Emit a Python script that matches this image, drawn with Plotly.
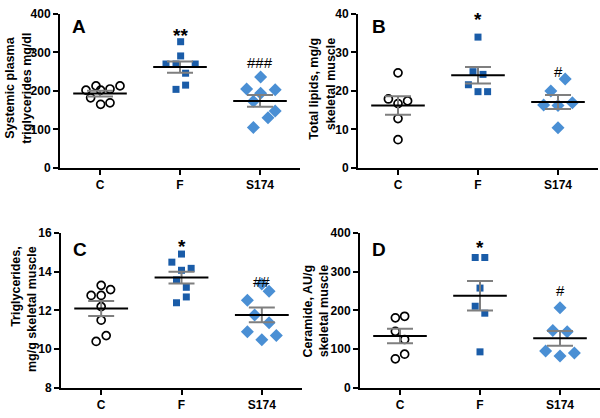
import plotly.graph_objects as go

groups = ["C", "F", "S174"]

# Panel A: systemic plasma triglycerides (mg/dl)
a_C = [202, 213, 202, 205, 213, 182, 165, 169]
a_F = [328, 291, 270, 270, 270, 246, 215, 204]
a_S = [236, 205, 203, 194, 173, 148, 130, 105]
a_mean = [193, 262, 174]
a_sem = [7.5, 14.6, 15.0]

# Panel B: total lipids (mg/g skeletal muscle)
b_C = [24.7, 17.9, 16.7, 17.4, 12.8, 7.3]
b_F = [34.0, 25.0, 24.3, 21.6, 19.8, 19.8]
b_S = [23.1, 20.0, 16.3, 16.2, 16.9, 10.4]
b_mean = [16.2, 24.1, 17.1]
b_sem = [2.4, 2.15, 1.8]

# Panel C: triglycerides (mg/g skeletal muscle)
c_C = [12.78, 12.78, 13.3, 13.08, 12.2, 11.5, 10.7, 10.4]
c_F = [14.92, 14.5, 14.18, 14.08, 13.58, 13.2, 12.7, 12.4]
c_S = [13.37, 13.0, 12.53, 11.77, 11.37, 10.9, 10.7, 10.49]
c_mean = [12.1, 13.7, 11.77]
c_sem = [0.39, 0.31, 0.38]

# Panel D: ceramide (AU/g skeletal muscle)
d_C = [181, 185, 146, 125, 87, 75]
d_F = [337, 337, 258, 211, 193, 93]
d_S = [207, 148, 145, 95, 90, 82]
d_mean = [134, 238, 128]
d_sem = [18.5, 38, 19]

# horizontal jitter of the dot plots (fraction of category spacing)
a_jit = [[-0.175, -0.05, 0.008, 0.125, 0.25, -0.117, 0.008, 0.125],
         [0.008, 0.008, -0.175, -0.05, 0.19, 0.07, 0.07, -0.05],
         [0.008, -0.167, 0.19, 0.008, -0.083, 0.19, 0.1, -0.083]]
b_jit = [[0, -0.12, 0, 0.12, 0, 0],
         [0, -0.0625, 0.0625, -0.12, 0, 0.12],
         [0.09, -0.09, -0.18, 0, 0.18, 0]]
c_jit = [[-0.125, 0, 0, 0.117, 0, 0, 0.0625, -0.0625],
         [0, -0.12, 0.12, 0, -0.0625, 0.06, 0.06, -0.0625],
         [0, 0.09, -0.18, -0.09, 0.09, -0.18, 0.18, 0]]
d_jit = [[-0.058, 0.058, -0.058, 0.058, 0.058, -0.058],
         [-0.06, 0.06, 0, -0.06, 0.06, 0],
         [0, -0.09, 0.09, -0.18, 0.18, 0]]

panels = [
    dict(key="", letter="A", data=[a_C, a_F, a_S], mean=a_mean, sem=a_sem, jit=a_jit,
         yrange=[0, 400], dtick=100,
         title="Systemic plasma<br>triglycerides mg/dl", talign="center",
         sig=[("**", 1, 345), ("###", 2, 275)],
         xdom=[60/600, 300/600], ydom=[1-166.3/418, 1-7.3/418],
         letter_xy=(79, 20), title_xy=(18, 84.5)),
    dict(key="2", letter="B", data=[b_C, b_F, b_S], mean=b_mean, sem=b_sem, jit=b_jit,
         yrange=[0, 40], dtick=10,
         title="Total lipids, mg/g<br>skeletal muscle", talign="right",
         sig=[("*", 1, 38.6), ("#", 2, 25.1)],
         xdom=[358/600, 598/600], ydom=[1-166.3/418, 1-7.3/418],
         letter_xy=(379, 20), title_xy=(322.5, 85)),
    dict(key="3", letter="C", data=[c_C, c_F, c_S], mean=c_mean, sem=c_sem, jit=c_jit,
         yrange=[8, 16], dtick=2,
         title="Triglycerides,<br>mg/g skeletal muscle", talign="right",
         sig=[("*", 1, 15.3), ("##", 2, 13.5)],
         xdom=[61/600, 302/600], ydom=[1-394/418, 1-234/418],
         letter_xy=(80, 251), title_xy=(23.5, 313)),
    dict(key="4", letter="D", data=[d_C, d_F, d_S], mean=d_mean, sem=d_sem, jit=d_jit,
         yrange=[0, 400], dtick=100,
         title="Ceramide, AU/g<br>skeletal muscle", talign="right",
         sig=[("*", 1, 362), ("#", 2, 251)],
         xdom=[360/600, 600/600], ydom=[1-394/418, 1-234/418],
         letter_xy=(379, 251), title_xy=(316, 314)),
]

styles = [
    dict(symbol="circle-open", size=8, color="black", line=dict(color="black", width=1.7)),
    dict(symbol="square", size=7, color="#1a5ca8", line=dict(width=0)),
    dict(symbol="diamond", size=10, color="#4a8fd4", line=dict(width=0)),
]

FONT = "Arial, Liberation Sans, sans-serif"
W, H = 600, 418

fig = go.Figure()
annotations = []
layout = {}

for p in panels:
    k = p["key"]
    xa, ya = "x" + k, "y" + k
    for gi, vals in enumerate(p["data"]):
        xs = [gi + j for j in p["jit"][gi]]
        fig.add_trace(go.Scatter(x=xs, y=vals, xaxis=xa, yaxis=ya, mode="markers",
                                 marker=styles[gi], showlegend=False, cliponaxis=False))
    # SEM error bars (gray)
    fig.add_trace(go.Scatter(x=[0, 1, 2], y=p["mean"], xaxis=xa, yaxis=ya, mode="markers",
                             marker=dict(size=1, color="rgba(0,0,0,0)"),
                             error_y=dict(type="data", array=p["sem"], color="#7f7f7f",
                                          thickness=2, width=13),
                             showlegend=False))
    # mean lines (black)
    mx, my = [], []
    for gi, m in enumerate(p["mean"]):
        mx += [gi - 0.335, gi + 0.335, None]
        my += [m, m, None]
    fig.add_trace(go.Scatter(x=mx, y=my, xaxis=xa, yaxis=ya, mode="lines",
                             line=dict(color="black", width=2), showlegend=False))

    layout["xaxis" + k] = dict(domain=p["xdom"], anchor=ya, range=[-0.5, 2.5],
                               tickvals=[0, 1, 2], ticktext=groups,
                               showline=True, linecolor="black", linewidth=2,
                               ticks="outside", ticklen=5, tickwidth=2, tickcolor="black",
                               showgrid=False, zeroline=False,
                               tickfont=dict(family=FONT, size=12, color="black", weight="bold"))
    layout["yaxis" + k] = dict(domain=p["ydom"], anchor=xa, range=p["yrange"],
                               dtick=p["dtick"], tick0=p["yrange"][0],
                               showline=True, linecolor="black", linewidth=2,
                               ticks="outside", ticklen=5, tickwidth=2, tickcolor="black",
                               showgrid=False, zeroline=False,
                               tickfont=dict(family=FONT, size=12, color="black", weight="bold"))

    lx, ly = p["letter_xy"]
    annotations.append(dict(text=p["letter"], x=lx / W, y=1 - ly / H, xref="paper", yref="paper",
                            showarrow=False, xanchor="center", yanchor="middle",
                            font=dict(family=FONT, size=19, color="black", weight="bold")))
    tx, ty = p["title_xy"]
    annotations.append(dict(text=p["title"], x=tx / W, y=1 - ty / H, xref="paper", yref="paper",
                            showarrow=False, xanchor="center", yanchor="middle", textangle=-90,
                            align=p["talign"],
                            font=dict(family=FONT, size=12.5, color="black", weight="bold")))
    for txt, gx, gy in p["sig"]:
        star = txt.startswith("*")
        annotations.append(dict(text=txt, x=gx, y=gy, xref=xa, yref=ya, showarrow=False,
                                xanchor="center", yanchor="middle",
                                font=dict(family=FONT, size=19 if star else 15, color="black",
                                          weight="bold" if star else "normal")))

fig.update_layout(width=W, height=H, margin=dict(l=0, r=0, t=0, b=0),
                  plot_bgcolor="white", paper_bgcolor="white",
                  annotations=annotations, **layout)

fig.write_html("out.html")
